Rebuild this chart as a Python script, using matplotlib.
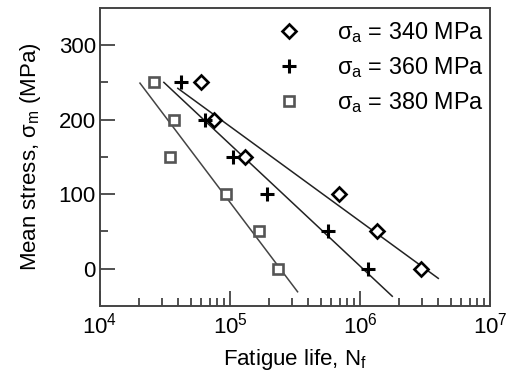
import matplotlib
matplotlib.use("Agg")
import matplotlib.pyplot as plt
import numpy as np

plt.rcParams['font.family'] = ['Liberation Sans', 'DejaVu Sans']
plt.rcParams['mathtext.fontset'] = 'custom'
plt.rcParams['mathtext.rm'] = 'Liberation Sans'
plt.rcParams['mathtext.it'] = 'Liberation Sans'

# Data
stress_levels = [250, 200, 150, 100, 50, 0]
life_340 = [6.0e4, 7.5e4, 1.30e5, 6.95e5, 1.34e6, 2.96e6]
life_360 = [4.2e4, 6.4e4, 1.05e5, 1.94e5, 5.63e5, 1.16e6]
life_380 = [2.6e4, 3.7e4, 3.44e4, 9.4e4, 1.66e5, 2.32e5]

# fitted line endpoints (life, stress)
fit_340_N = [3.97e4, 4.0e6]
fit_340_S = [242, -13]
fit_360_N = [3.10e4, 1.77e6]
fit_360_S = [250, -37]
fit_380_N = [2.03e4, 3.31e5]
fit_380_S = [249, -31]

labels = [r'$\mathregular{σ_a}$ = 340 MPa', r'$\mathregular{σ_a}$ = 360 MPa', r'$\mathregular{σ_a}$ = 380 MPa']

fig = plt.figure(figsize=(5.18, 3.74), dpi=100)
ax = fig.add_axes([0.193, 0.182, 0.753, 0.797])

lc = '#222222'
ax.plot(fit_340_N, fit_340_S, color=lc, lw=1.1, zorder=1)
ax.plot(fit_360_N, fit_360_S, color=lc, lw=1.1, zorder=1)
ax.plot(fit_380_N, fit_380_S, color='#444444', lw=1.1, zorder=1)

ax.plot(life_340, stress_levels, linestyle='none', marker='D', ms=7, mfc='white',
        mec='black', mew=1.9, label=labels[0], zorder=3)
ax.plot(life_360, stress_levels, linestyle='none', marker='+', ms=10, mec='black',
        mew=2.2, label=labels[1], zorder=3)
ax.plot(life_380, stress_levels, linestyle='none', marker='s', ms=7, mfc='white',
        mec='#555555', mew=1.9, label=labels[2], zorder=3)

ax.set_xscale('log')
ax.set_xlim(1e4, 1e7)
ax.set_ylim(-50, 350)
ax.set_yticks([0, 100, 200, 300])
ax.set_yticks([50, 150, 250], minor=True)

fs = 16
ax.tick_params(which='both', direction='in', labelsize=fs, color='#333333')
ax.tick_params(which='major', length=10.5, width=1.2)
ax.tick_params(which='minor', length=5.5, width=1.2)
ax.tick_params(axis='x', which='both', top=False, pad=5)
ax.tick_params(axis='y', which='both', right=False, pad=3)
for s in ax.spines.values():
    s.set_color('#444444')
    s.set_linewidth(1.4)

ax.set_xlabel(r'Fatigue life, $\mathregular{N_f}$', fontsize=fs, labelpad=6)
ax.set_ylabel(r'Mean stress, $\mathregular{σ_m}$ (MPa)', fontsize=fs, labelpad=11)

ax.legend(loc='upper right', bbox_to_anchor=(1.025, 1.013), frameon=False,
          fontsize=16.8, numpoints=1,
          handlelength=1.0, handletextpad=1.55, labelspacing=0.42,
          borderaxespad=0.3)

fig.savefig('out.png', dpi=100)
